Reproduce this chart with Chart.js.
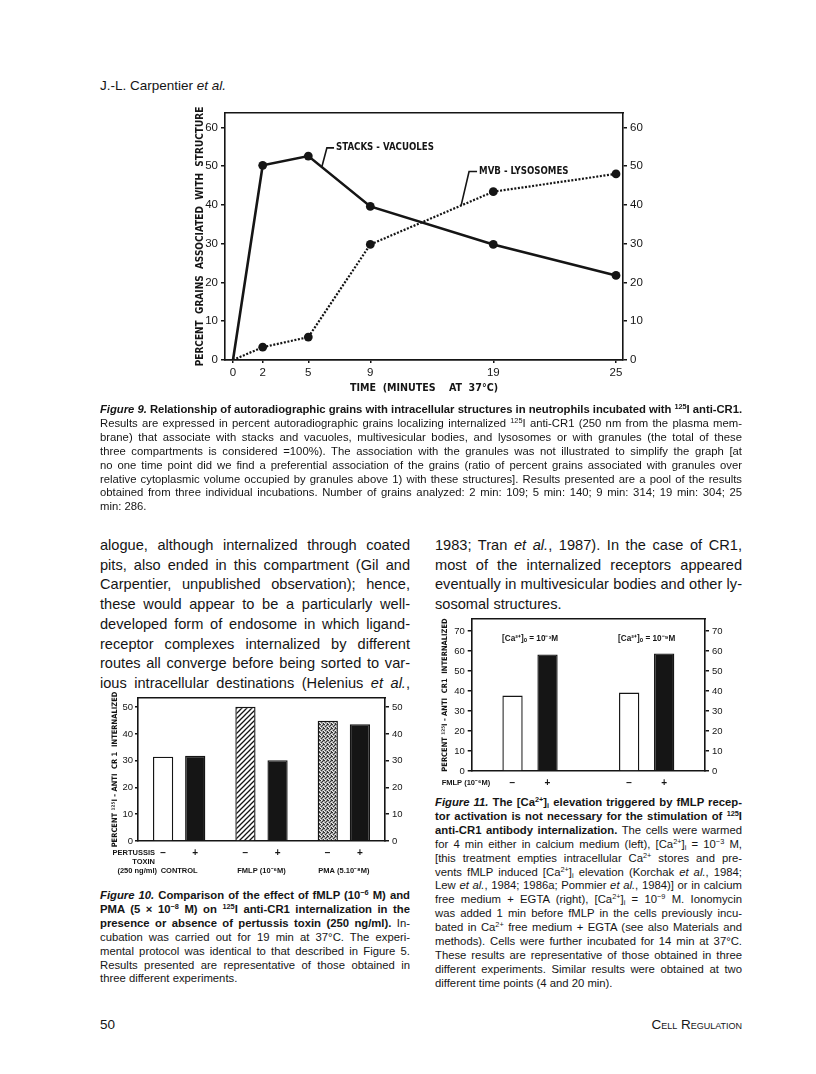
<!DOCTYPE html>
<html>
<head>
<meta charset="utf-8">
<script src="https://cdn.jsdelivr.net/npm/chart.js@4.4.0/dist/chart.umd.min.js"></script>
<style>
html, body { margin: 0; padding: 0; background: #fff; }
body { width: 816px; height: 1074px; position: relative; overflow: hidden; font-family: 'Liberation Sans', Arial, sans-serif; color: #151515; }
.abs { position: absolute; }
canvas { position: absolute; }
.ln { text-align: justify; text-align-last: justify; }
.ln.end { text-align-last: left; }
.cap { font-size: 11.3px; line-height: 13.9px; }
.body { font-size: 14.6px; line-height: 19.7px; }
sup { font-size: 0.65em; line-height: 0; vertical-align: 0.5em; }
sub { font-size: 0.65em; line-height: 0; vertical-align: -0.25em; }
.sc { font-variant: small-caps; }
</style>
</head>
<body>

<div class="abs" style="left:100px;top:78px;font-size:13.5px;line-height:16px">J.-L. Carpentier <i>et al.</i></div>

<canvas id="fig9" width="520" height="310" style="left:150px;top:95px"></canvas>

<div class="abs cap" style="left:100px;top:403px;width:642px">
  <div class="ln"><b><i>Figure 9.</i> Relationship of autoradiographic grains with intracellular structures in neutrophils incubated with <sup>125</sup>I anti-CR1.</b></div>
  <div class="ln">Results are expressed in percent autoradiographic grains localizing internalized <sup>125</sup>I anti-CR1 (250 nm from the plasma mem-</div>
  <div class="ln">brane) that associate with stacks and vacuoles, multivesicular bodies, and lysosomes or with granules (the total of these</div>
  <div class="ln">three compartments is considered =100%). The association with the granules was not illustrated to simplify the graph [at</div>
  <div class="ln">no one time point did we find a preferential association of the grains (ratio of percent grains associated with granules over</div>
  <div class="ln">relative cytoplasmic volume occupied by granules above 1) with these structures]. Results presented are a pool of the results</div>
  <div class="ln">obtained from three individual incubations. Number of grains analyzed: 2 min: 109; 5 min: 140; 9 min: 314; 19 min: 304; 25</div>
  <div class="ln end">min: 286.</div>
</div>

<div class="abs body" style="left:100px;top:536px;width:310px">
  <div class="ln">alogue, although internalized through coated</div>
  <div class="ln">pits, also ended in this compartment (Gil and</div>
  <div class="ln">Carpentier, unpublished observation); hence,</div>
  <div class="ln">these would appear to be a particularly well-</div>
  <div class="ln">developed form of endosome in which ligand-</div>
  <div class="ln">receptor complexes internalized by different</div>
  <div class="ln">routes all converge before being sorted to var-</div>
  <div class="ln">ious intracellular destinations (Helenius <i>et al.</i>,</div>
</div>

<div class="abs body" style="left:435px;top:536px;width:307px">
  <div class="ln">1983; Tran <i>et al.</i>, 1987). In the case of CR1,</div>
  <div class="ln">most of the internalized receptors appeared</div>
  <div class="ln">eventually in multivesicular bodies and other ly-</div>
  <div class="ln end">sosomal structures.</div>
</div>

<canvas id="fig10" width="310" height="200" style="left:100px;top:680px"></canvas>
<canvas id="fig11" width="310" height="190" style="left:425px;top:605px"></canvas>

<div class="abs cap" style="left:100px;top:889px;width:310px">
  <div class="ln"><b><i>Figure 10.</i> Comparison of the effect of fMLP (10<sup>−6</sup> M) and</b></div>
  <div class="ln"><b>PMA (5 × 10<sup>−8</sup> M) on <sup>125</sup>I anti-CR1 internalization in the</b></div>
  <div class="ln"><b>presence or absence of pertussis toxin (250 ng/ml).</b> In-</div>
  <div class="ln">cubation was carried out for 19 min at 37°C. The experi-</div>
  <div class="ln">mental protocol was identical to that described in Figure 5.</div>
  <div class="ln">Results presented are representative of those obtained in</div>
  <div class="ln end">three different experiments.</div>
</div>

<div class="abs cap" style="left:435px;top:796px;width:307px">
  <div class="ln"><b><i>Figure 11.</i> The [Ca<sup>2+</sup>]<sub>i</sub> elevation triggered by fMLP recep-</b></div>
  <div class="ln"><b>tor activation is not necessary for the stimulation of <sup>125</sup>I</b></div>
  <div class="ln"><b>anti-CR1 antibody internalization.</b> The cells were warmed</div>
  <div class="ln">for 4 min either in calcium medium (left), [Ca<sup>2+</sup>]<sub>i</sub> = 10<sup>−3</sup> M,</div>
  <div class="ln">[this treatment empties intracellular Ca<sup>2+</sup> stores and pre-</div>
  <div class="ln">vents fMLP induced [Ca<sup>2+</sup>]<sub>i</sub> elevation (Korchak <i>et al.</i>, 1984;</div>
  <div class="ln">Lew <i>et al.</i>, 1984; 1986a; Pommier <i>et al.</i>, 1984)] or in calcium</div>
  <div class="ln">free medium + EGTA (right), [Ca<sup>2+</sup>]<sub>i</sub> = 10<sup>−9</sup> M. Ionomycin</div>
  <div class="ln">was added 1 min before fMLP in the cells previously incu-</div>
  <div class="ln">bated in Ca<sup>2+</sup> free medium + EGTA (see also Materials and</div>
  <div class="ln">methods). Cells were further incubated for 14 min at 37°C.</div>
  <div class="ln">These results are representative of those obtained in three</div>
  <div class="ln">different experiments. Similar results were obtained at two</div>
  <div class="ln end">different time points (4 and 20 min).</div>
</div>

<div class="abs" style="left:100px;top:1017px;font-size:13.5px;line-height:16px">50</div>
<div class="abs sc" style="left:542px;top:1017px;width:200px;text-align:right;font-size:13.5px;line-height:16px">Cell Regulation</div>

<script>
// figure 9: grains per structure over time
const timePoints = [0, 2, 5, 9, 19, 25];
const stacksVacuoles = [0, 50.2, 52.6, 39.6, 29.8, 21.8];
const mvbLysosomes = [0, 3.3, 5.9, 29.8, 43.4, 48.0];
const seriesNames = ['STACKS - VACUOLES', 'MVB - LYSOSOMES'];
const percentTicks9 = [0, 10, 20, 30, 40, 50, 60];

// figure 10: pertussis toxin
const treatments = ['CONTROL', 'FMLP (10⁻⁶M)', 'PMA (5.10⁻⁸M)'];
const toxinSigns = ['−', '+'];
const internalizedNoToxin = [31.5, 50.1, 44.9];
const internalizedToxin = [31.8, 30.2, 43.6];
const percentTicks10 = [0, 10, 20, 30, 40, 50];

// figure 11: calcium
const calciumConditions = ['[Ca²⁺]ₒ = 10⁻³M', '[Ca²⁺]ₒ = 10⁻⁹M'];
const fmlpSigns = ['−', '+'];
const internalizedNoFmlp = [37.7, 39.2];
const internalizedFmlp = [58.3, 58.8];
const percentTicks11 = [0, 10, 20, 30, 40, 50, 60, 70];

const INK = '#151515';
const narrow = '"Liberation Sans Narrow", "DejaVu Sans Condensed", "Liberation Sans", sans-serif';
const sans = '"Liberation Sans", Arial, sans-serif';

// fit justified text lines so none wraps
document.querySelectorAll('.ln').forEach(el => {
  el.style.whiteSpace = 'nowrap';
  let ls = 0;
  while (el.scrollWidth > el.clientWidth + 0.5 && ls > -2) {
    ls -= 0.05;
    el.style.letterSpacing = ls + 'px';
  }
  el.style.whiteSpace = '';
});

// the time axis of fig 9 is drawn with uneven spacing between the time points
class BrokenTimeScale extends Chart.LinearScale {
  getPixelForValue(value) {
    const stops = this.options.stops;
    let i = 0;
    while (i < stops.length - 2 && value > stops[i + 1][0]) i++;
    const v0 = stops[i][0], f0 = stops[i][1], v1 = stops[i + 1][0], f1 = stops[i + 1][1];
    return this.left + (f0 + (value - v0) / (v1 - v0) * (f1 - f0)) * this.width;
  }
}
BrokenTimeScale.id = 'brokenTime';
Chart.register(BrokenTimeScale);

const fixedTicks = list => scale => { scale.ticks = list.map(v => ({ value: v })); };

function yAxis(pos, max, ticks, width, fontSize, extra) {
  return Object.assign({
    position: pos, min: 0, max: max,
    afterBuildTicks: fixedTicks(ticks),
    afterFit: s => { s.width = width; },
    ticks: { color: INK, font: { family: sans, size: fontSize }, padding: 3 },
    grid: { drawOnChartArea: false, drawTicks: true, tickLength: 4, color: INK, lineWidth: 1.5 },
    border: { color: INK, width: 1.6 }
  }, extra || {});
}

function frameTop(type) {
  return {
    position: 'top', type: type,
    ticks: { display: false }, grid: { display: false },
    border: { color: INK, width: 1.5 },
    afterFit: s => { s.height = 0; }
  };
}

const callouts = {
  id: 'callouts',
  afterDatasetsDraw(chart) {
    const { ctx, scales: { x, y } } = chart;
    const items = [
      { text: seriesNames[0], path: [[5.88, 49.9], [6.2, 54.7], [6.66, 54.7]] },
      { text: seriesNames[1], path: [[16.38, 39.8], [17.03, 48.6], [17.68, 48.6]] }
    ];
    ctx.save();
    ctx.strokeStyle = INK; ctx.fillStyle = INK; ctx.lineWidth = 1.6;
    ctx.font = 'bold 9.6px ' + narrow;
    ctx.textBaseline = 'middle';
    items.forEach(it => {
      ctx.beginPath();
      it.path.forEach((p, i) => {
        const px = x.getPixelForValue(p[0]), py = y.getPixelForValue(p[1]);
        if (i === 0) ctx.moveTo(px, py); else ctx.lineTo(px, py);
      });
      ctx.stroke();
      const last = it.path[it.path.length - 1];
      ctx.fillText(it.text, x.getPixelForValue(last[0]) + 2, y.getPixelForValue(last[1]));
    });
    ctx.restore();
  }
};

new Chart(document.getElementById('fig9'), {
  type: 'line',
  data: {
    datasets: [
      {
        label: seriesNames[0],
        data: timePoints.map((t, i) => ({ x: t, y: stacksVacuoles[i] })),
        borderColor: INK, borderWidth: 2.6,
        pointRadius: c => (c.dataIndex === 0 ? 0 : 4.4),
        pointBackgroundColor: INK, pointBorderWidth: 0
      },
      {
        label: seriesNames[1],
        data: timePoints.map((t, i) => ({ x: t, y: mvbLysosomes[i] })),
        borderColor: INK, borderWidth: 2.2, borderDash: [2, 1.6],
        pointRadius: c => (c.dataIndex === 0 ? 0 : 4.4),
        pointBackgroundColor: INK, pointBorderWidth: 0
      }
    ]
  },
  options: {
    responsive: false, animation: false, events: [],
    layout: { padding: { top: 18, left: 0, right: 0, bottom: 0 } },
    plugins: { legend: { display: false }, tooltip: { enabled: false } },
    scales: {
      x: {
        type: 'brokenTime', min: -0.5, max: 25.5,
        stops: [[0, 0.0201], [2, 0.0947], [5, 0.2093], [9, 0.3651], [19, 0.6741], [25, 0.9824]],
        afterBuildTicks: fixedTicks(timePoints),
        afterFit: s => { s.height = 45; },
        ticks: { autoSkip: false, maxRotation: 0, color: INK, font: { family: sans, size: 11.5 }, padding: 3 },
        grid: { drawOnChartArea: false, drawTicks: true, tickLength: 3, color: INK, lineWidth: 1.5 },
        border: { color: INK, width: 1.8 },
        title: { display: true, text: 'TIME  (MINUTES    AT  37°C)', color: INK,
          font: { family: narrow, size: 10.6, weight: 'bold' }, padding: { top: 0, bottom: 10.6 } }
      },
      xTop: Object.assign(frameTop('linear'), { min: 0, max: 1 }),
      y: yAxis('left', 63.7, percentTicks9, 75, 11.5, {
        title: { display: true, text: 'PERCENT  GRAINS  ASSOCIATED  WITH  STRUCTURE', color: INK,
          font: { family: narrow, size: 10, weight: 'bold' }, padding: { top: 44, bottom: 0 } }
      }),
      yRight: yAxis('right', 63.7, percentTicks9, 47, 11.5)
    }
  },
  plugins: [callouts]
});

// bar textures
function tile(size, paint) {
  const c = document.createElement('canvas');
  c.width = size; c.height = size;
  const g = c.getContext('2d');
  paint(g);
  return g.createPattern(c, 'repeat');
}
const hatch = tile(5, g => {
  g.fillStyle = '#fff'; g.fillRect(0, 0, 5, 5);
  g.strokeStyle = INK; g.lineWidth = 1.3;
  g.beginPath();
  g.moveTo(-1, 6); g.lineTo(6, -1);
  g.moveTo(-1, 1); g.lineTo(1, -1);
  g.moveTo(4, 6); g.lineTo(6, 4);
  g.stroke();
});
const stipple = tile(4, g => {
  g.fillStyle = '#a8a8a8'; g.fillRect(0, 0, 4, 4);
  g.fillStyle = '#333';
  [[0, 0], [2, 1], [1, 2], [3, 3], [3, 0]].forEach(p => g.fillRect(p[0], p[1], 1, 1));
  g.fillStyle = '#eee';
  [[1, 0], [3, 2], [0, 3]].forEach(p => g.fillRect(p[0], p[1], 1, 1));
});

// labels under and around bars
const barNotes = {
  id: 'barNotes',
  afterDraw(chart, args, opts) {
    const { ctx, chartArea } = chart;
    ctx.save();
    ctx.fillStyle = INK;
    ctx.textBaseline = 'middle';
    ctx.textAlign = 'center';
    ctx.font = 'bold 10px ' + sans;
    chart.data.datasets.forEach((ds, di) => {
      chart.getDatasetMeta(di).data.forEach(bar => {
        ctx.fillText(ds.label, bar.x, chartArea.bottom + 12);
      });
    });
    ctx.font = 'bold ' + (opts.noteSize || 7.5) + 'px ' + sans;
    if (opts.inside) {
      chart.data.labels.forEach((lab, i) => {
        ctx.fillText(lab, chart.scales.x.getPixelForValue(i), chartArea.top + opts.inside);
      });
    }
    ctx.font = 'bold 7.5px ' + sans;
    (opts.side || []).forEach(s => {
      ctx.textAlign = s.align;
      ctx.fillText(s.text, chartArea.left + s.dx, chartArea.bottom + s.dy);
    });
    ctx.restore();
  }
};

new Chart(document.getElementById('fig10'), {
  type: 'bar',
  data: {
    labels: treatments,
    datasets: [
      { label: toxinSigns[0], data: internalizedNoToxin, backgroundColor: ['#fff', hatch, stipple],
        borderColor: INK, borderWidth: 1.4, categoryPercentage: 0.78, barPercentage: 0.63 },
      { label: toxinSigns[1], data: internalizedToxin, backgroundColor: INK,
        borderColor: INK, borderWidth: 1.4, categoryPercentage: 0.78, barPercentage: 0.63 }
    ]
  },
  options: {
    responsive: false, animation: false, events: [],
    layout: { padding: { top: 18, left: 0, right: 0, bottom: 0 } },
    plugins: {
      legend: { display: false }, tooltip: { enabled: false },
      barNotes: { side: [
        { text: 'PERTUSSIS', align: 'right', dx: 17, dy: 12 },
        { text: 'TOXIN', align: 'right', dx: 17, dy: 21 },
        { text: '(250 ng/ml)', align: 'right', dx: 19, dy: 30 }
      ] }
    },
    scales: {
      x: {
        afterFit: s => { s.height = 39; },
        ticks: { color: INK, font: { family: sans, size: 7.5, weight: 'bold' }, padding: 17 },
        grid: { display: false },
        border: { color: INK, width: 1.4 }
      },
      xTop: frameTop('category'),
      y: yAxis('left', 53.4, percentTicks10, 38, 9.5, {
        ticks: { color: INK, font: { family: sans, size: 9.5 }, padding: 2 },
        grid: { drawOnChartArea: false, drawTicks: true, tickLength: 3, color: INK, lineWidth: 1.5 },
        title: { display: true, text: 'PERCENT ¹²⁵I - ANTI  CR 1  INTERNALIZED', color: INK,
          font: { family: narrow, size: 7.5, weight: 'bold' }, padding: { top: 11, bottom: 0 } }
      }),
      yRight: yAxis('right', 53.4, percentTicks10, 25, 9.5)
    }
  },
  plugins: [barNotes]
});

new Chart(document.getElementById('fig11'), {
  type: 'bar',
  data: {
    labels: calciumConditions,
    datasets: [
      { label: fmlpSigns[0], data: internalizedNoFmlp, backgroundColor: '#fff',
        borderColor: INK, borderWidth: 1.4, categoryPercentage: 0.6, barPercentage: 0.58 },
      { label: fmlpSigns[1], data: internalizedFmlp, backgroundColor: INK,
        borderColor: INK, borderWidth: 1.4, categoryPercentage: 0.6, barPercentage: 0.58 }
    ]
  },
  options: {
    responsive: false, animation: false, events: [],
    layout: { padding: { top: 14, left: 0, right: 0, bottom: 0 } },
    plugins: {
      legend: { display: false }, tooltip: { enabled: false },
      barNotes: { inside: 20, noteSize: 8.2, side: [
        { text: 'FMLP (10⁻⁶M)', align: 'left', dx: -30, dy: 12 }
      ] }
    },
    scales: {
      x: {
        afterFit: s => { s.height = 24; },
        ticks: { display: false },
        grid: { display: false },
        border: { color: INK, width: 1.4 }
      },
      xTop: frameTop('category'),
      y: yAxis('left', 76, percentTicks11, 46.7, 9.5, {
        title: { display: true, text: 'PERCENT ¹²⁵I - ANTI  CR1  INTERNALIZED', color: INK,
          font: { family: narrow, size: 7.5, weight: 'bold' }, padding: { top: 15.5, bottom: 0 } }
      }),
      yRight: yAxis('right', 76, percentTicks11, 30, 9.5)
    }
  },
  plugins: [barNotes]
});
</script>
</body>
</html>
